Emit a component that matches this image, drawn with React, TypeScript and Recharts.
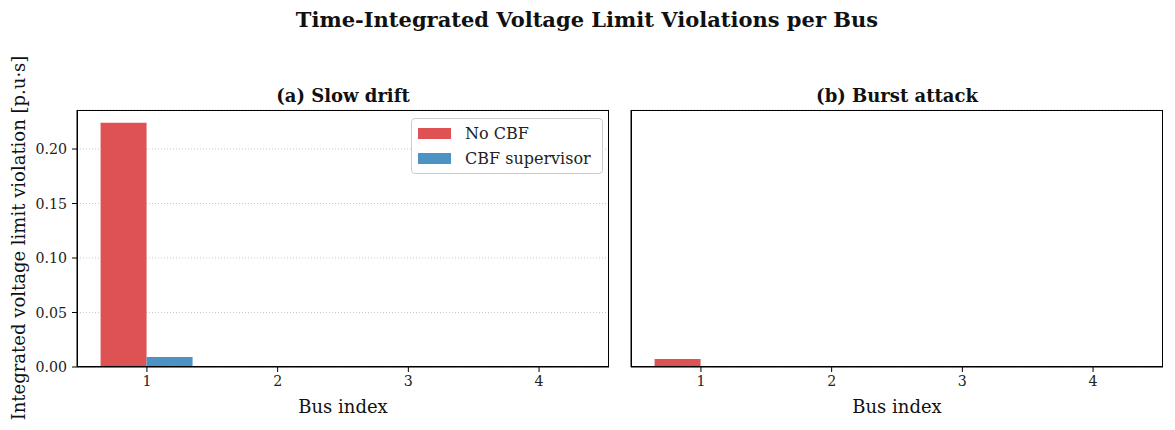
import React from "react";
import { BarChart, Bar, XAxis, YAxis, CartesianGrid } from "recharts";

const buses = [1, 2, 3, 4];
const slowNoCbf = [0.224, 0, 0, 0];
const slowCbf = [0.0092, 0, 0, 0];
const burstNoCbf = [0.0073, 0, 0, 0];
const burstCbf = [0.0003, 0, 0, 0];
const yTicks = [0, 0.05, 0.1, 0.15, 0.2];

const RED = "#de5253";
const BLUE = "#4c92c3";
const FONT = "'DejaVu Serif', serif";

const slowData = buses.map((b, i) => ({ bus: b, noCbf: slowNoCbf[i], cbf: slowCbf[i] }));
const burstData = buses.map((b, i) => ({ bus: b, noCbf: burstNoCbf[i], cbf: burstCbf[i] }));

const tickStyle = { fontFamily: FONT, fontSize: 14.2, fill: "#222" };

// plot area in page pixels
const PLOT_TOP = 110;
const PLOT_H = 257;
const PLOT_W = 532;
const Y_AXIS_W = 60;

function LegendBox() {
  const row = (color: string, label: string) => (
    <div style={{ display: "flex", alignItems: "center", height: 25, whiteSpace: "nowrap" }}>
      <div style={{ width: 33, height: 11, background: color, marginRight: 14, flexShrink: 0 }} />
      <span style={{ fontFamily: FONT, fontSize: 16, color: "#222" }}>{label}</span>
    </div>
  );
  return (
    <div
      style={{
        position: "absolute",
        left: 411,
        top: 118,
        background: "rgba(255,255,255,0.85)",
        border: "1px solid #ccc",
        borderRadius: 4,
        padding: "2px 7px 2px 6px",
        width: 177,
        boxSizing: "content-box",
      }}
    >
      {row(RED, "No CBF")}
      {row(BLUE, "CBF supervisor")}
    </div>
  );
}

function Panel({ data, plotLeft, showLabels }: { data: any[]; plotLeft: number; showLabels: boolean }) {
  return (
    <>
      <div style={{ position: "absolute", left: plotLeft - Y_AXIS_W, top: 0 }}>
        <BarChart
          width={PLOT_W + Y_AXIS_W}
          height={430}
          data={data}
          margin={{ top: PLOT_TOP, right: 0, bottom: 430 - PLOT_TOP - PLOT_H - 30, left: 0 }}
          barGap={0}
        >
          <CartesianGrid vertical={false} horizontal stroke="#c8c8c8" strokeDasharray="1 2" />
          <XAxis
            dataKey="bus"
            type="number"
            domain={[0.465, 4.535]}
            ticks={buses}
            tick={tickStyle}
            tickSize={5}
            tickMargin={4}
            axisLine={{ stroke: "#000" }}
            tickLine={{ stroke: "#000" }}
            height={30}
            allowDataOverflow
          />
          <YAxis
            domain={[0, 0.2358]}
            ticks={yTicks}
            allowDataOverflow
            tick={showLabels ? tickStyle : false}
            tickFormatter={(v: number) => v.toFixed(2)}
            tickSize={5}
            tickMargin={5}
            axisLine={{ stroke: "#000" }}
            tickLine={{ stroke: "#000" }}
            width={Y_AXIS_W}
          />
          <Bar dataKey="noCbf" fill={RED} barSize={46} isAnimationActive={false} />
          <Bar dataKey="cbf" fill={BLUE} barSize={46} isAnimationActive={false} />
        </BarChart>
      </div>
      <div
        style={{
          position: "absolute",
          left: plotLeft,
          top: PLOT_TOP,
          width: PLOT_W,
          height: PLOT_H,
          border: "1px solid #000",
          boxSizing: "border-box",
          pointerEvents: "none",
        }}
      />
    </>
  );
}

export default function App() {
  const text = (s: string, x: number, y: number, size: number, bold = false) => (
    <div
      style={{
        position: "absolute",
        left: x,
        top: y,
        transform: "translate(-50%, -50%)",
        fontFamily: FONT,
        fontSize: size,
        fontWeight: bold ? "bold" : "normal",
        color: "#111",
        whiteSpace: "nowrap",
      }}
    >
      {s}
    </div>
  );
  return (
    <div style={{ position: "absolute", left: 0, top: 0, width: 1175, height: 430, background: "#fff", overflow: "hidden" }}>
      <Panel data={slowData} plotLeft={77} showLabels />
      <Panel data={burstData} plotLeft={631} showLabels={false} />
      <LegendBox />
      {text("Time-Integrated Voltage Limit Violations per Bus", 587, 19, 21, true)}
      {text("(a) Slow drift", 343, 95, 18, true)}
      {text("(b) Burst attack", 897, 95, 18, true)}
      {text("Bus index", 343, 406, 18)}
      {text("Bus index", 897, 406, 18)}
      <div
        style={{
          position: "absolute",
          left: 18,
          top: 238,
          transform: "translate(-50%, -50%) rotate(-90deg)",
          fontFamily: FONT,
          fontSize: 18,
          color: "#111",
          whiteSpace: "nowrap",
        }}
      >
        Integrated voltage limit violation [p.u·s]
      </div>
    </div>
  );
}
